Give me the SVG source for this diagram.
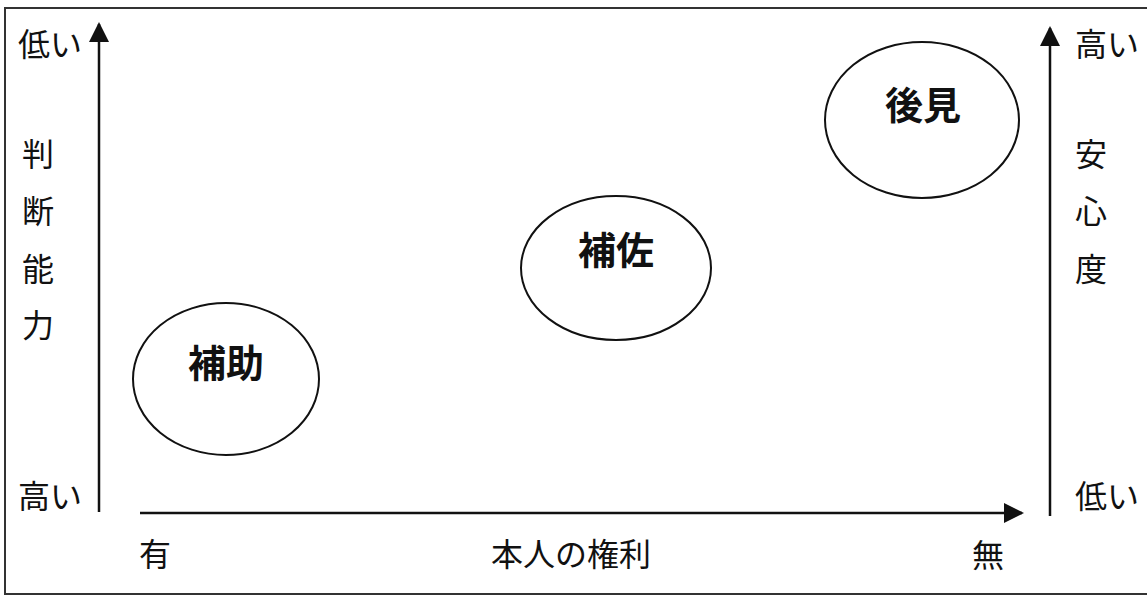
<svg xmlns="http://www.w3.org/2000/svg" width="1147" height="597" viewBox="0 0 1147 597">
<style>
.t{font-family:"Noto Sans CJK JP","Noto Sans CJK SC",sans-serif;font-size:32px;fill:#111}
.b{font-family:"Noto Sans CJK JP","Noto Sans CJK SC",sans-serif;font-size:38px;font-weight:bold;fill:#111}
.ax{stroke:#111;stroke-width:2.5;fill:none}
.el{stroke:#111;stroke-width:2;fill:none}
</style>
<defs>
<marker id="ah2" viewBox="0 0 10 10" refX="9" refY="5" markerWidth="8" markerHeight="8" orient="auto"><path d="M0,0 L10,5 L0,10 z" fill="#111"/></marker>
</defs>
<rect x="0" y="0" width="1147" height="597" fill="#fff"/>
<rect x="5" y="8" width="1150" height="586" fill="none" stroke="#333" stroke-width="2"/>
<g id="connectors">
<line class="ax" x1="99" y1="512" x2="99" y2="24" marker-end="url(#ah2)"/>
<line class="ax" x1="1050" y1="516" x2="1050" y2="28" marker-end="url(#ah2)"/>
<line class="ax" x1="140" y1="513" x2="1022" y2="513" marker-end="url(#ah2)"/>
</g>
<g id="axis-left">
<text class="t" x="18" y="56">低い</text>
<text class="t" x="18" y="508">高い</text>
<text class="t" x="22" y="166">判</text>
<text class="t" x="22" y="223">断</text>
<text class="t" x="22" y="281">能</text>
<text class="t" x="22" y="337">力</text>
</g>
<g id="axis-right">
<text class="t" x="1075" y="56">高い</text>
<text class="t" x="1075" y="508">低い</text>
<text class="t" x="1075" y="166">安</text>
<text class="t" x="1075" y="223">心</text>
<text class="t" x="1075" y="281">度</text>
</g>
<g id="axis-bottom">
<text class="t" x="139" y="566">有</text>
<text class="t" x="571" y="566" text-anchor="middle">本人の権利</text>
<text class="t" x="972" y="567">無</text>
</g>
<g id="node-hojo">
<ellipse class="el" cx="226" cy="379" rx="93" ry="76"/>
<text class="b" x="226" y="377" text-anchor="middle">補助</text>
</g>
<g id="node-hosa">
<ellipse class="el" cx="616" cy="268" rx="95" ry="72"/>
<text class="b" x="616" y="264" text-anchor="middle">補佐</text>
</g>
<g id="node-kouken">
<ellipse class="el" cx="922" cy="120" rx="97" ry="78"/>
<text class="b" x="923" y="119" text-anchor="middle">後見</text>
</g>
</svg>
